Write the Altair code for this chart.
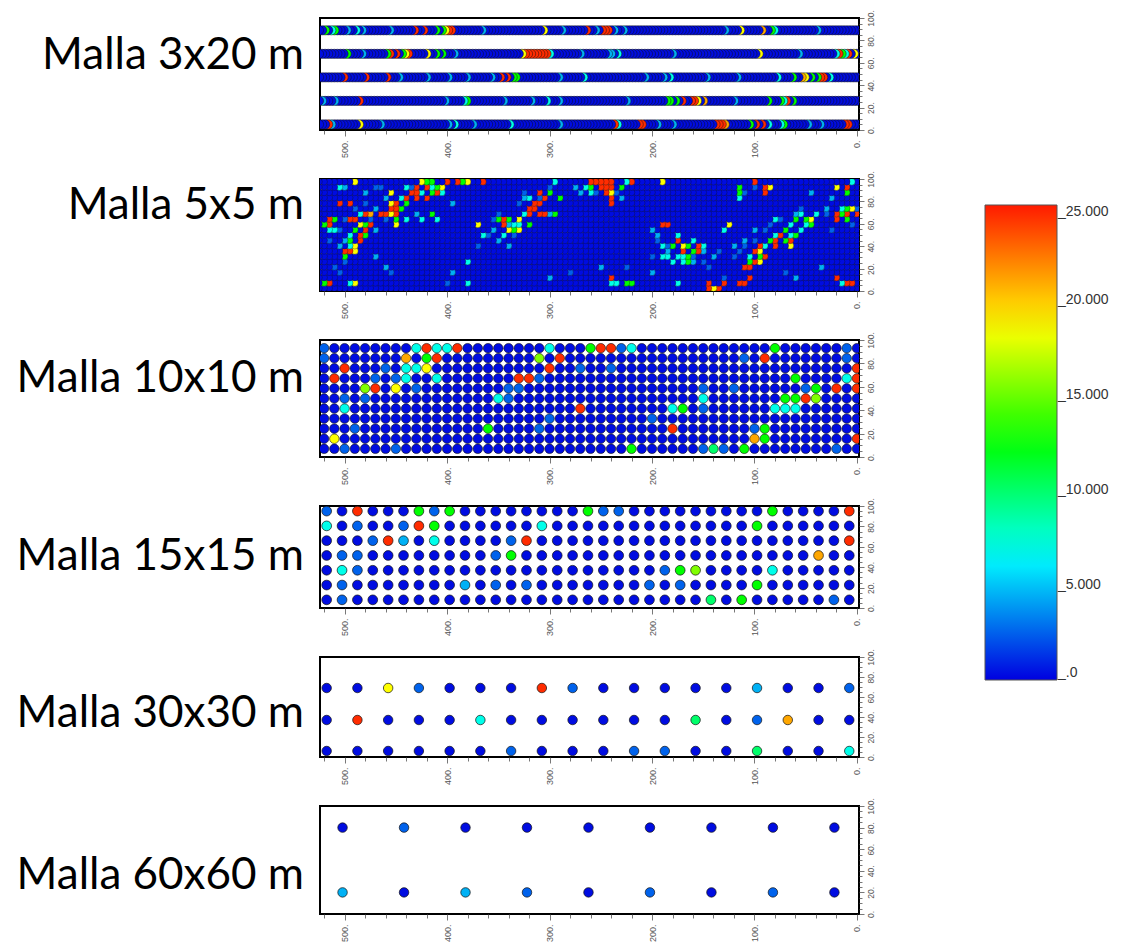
import altair as alt
import numpy as np
import pandas as pd

# ---- value classes ----
CODE = {"D": 0.3, "M": 2.5, "L": 4.5, "C": 7.0, "GC": 10.0, "G": 12.5,
        "YG": 15.5, "Y": 18.5, "O": 21.0, "R": 24.5}

TITLES = ["Malla 3x20 m", "Malla 5x5 m", "Malla 10x10 m",
          "Malla 15x15 m", "Malla 30x30 m", "Malla 60x60 m"]
LEGEND_VALUES = [0, 5, 10, 15, 20, 25]
COLOR_STOPS = [0, 6.5, 12.5, 18.5, 25]
COLOR_RANGE = ["#0000e0", "#00ffff", "#00ff00", "#ffff00", "#ff1a00"]

# ---- panel 1: 3 x 20 m (rows at y, samples every 3 m) ----
P1_ROWS = [89, 68, 47, 26, 5]
P1_X = list(range(0, 526, 3))
P1_SPOTS = {
    89: [(519, "G"), (513, "C"), (510, "G"), (498, "L"), (489, "C"), (483, "L"), (456, "L"),
         (432, "R"), (423, "R"), (411, "G"), (405, "G"), (402, "Y"), (399, "R"), (396, "R"),
         (366, "L"), (306, "Y"), (288, "L"), (264, "R"), (255, "L"), (249, "R"), (246, "R"),
         (243, "R"), (237, "L"), (228, "L"), (129, "L"), (114, "Y"), (93, "O"), (84, "G"),
         (81, "C"), (39, "L")],
    68: [(498, "G"), (483, "L"), (459, "G"), (456, "R"), (450, "R"), (444, "G"), (441, "Y"),
         (438, "R"), (420, "Y"), (411, "G"), (405, "G"), (393, "L"), (327, "Y"), (324, "R"),
         (321, "R"), (318, "R"), (315, "R"), (312, "R"), (309, "R"), (306, "R"), (303, "R"),
         (300, "C"), (270, "L"), (243, "L"), (240, "L"), (234, "C"), (180, "L"), (96, "Y"),
         (57, "L"), (21, "C"), (18, "R"), (15, "G"), (12, "C"), (9, "R"), (3, "Y")],
    47: [(501, "R"), (480, "R"), (459, "R"), (447, "L"), (420, "L"), (399, "L"), (381, "L"),
         (357, "L"), (348, "R"), (342, "R"), (336, "G"), (333, "G"), (291, "L"), (267, "C"),
         (207, "L"), (189, "L"), (183, "C"), (147, "L"), (117, "L"), (78, "C"), (63, "G"),
         (54, "O"), (51, "Y"), (45, "G"), (39, "G"), (36, "R"), (33, "R"), (27, "C")],
    26: [(522, "L"), (510, "L"), (486, "R"), (402, "L"), (384, "C"), (381, "G"), (345, "L"),
         (318, "L"), (303, "C"), (291, "L"), (225, "L"), (186, "G"), (183, "G"), (177, "G"),
         (171, "R"), (162, "R"), (159, "R"), (156, "Y"), (150, "O"), (120, "L"), (87, "G"),
         (75, "G"), (72, "C"), (69, "R"), (63, "G")],
    5: [(516, "R"), (513, "L"), (486, "Y"), (465, "L"), (399, "L"), (393, "C"), (375, "L"),
        (339, "C"), (291, "L"), (237, "R"), (234, "C"), (213, "R"), (210, "R"), (195, "L"),
        (180, "L"), (138, "R"), (135, "R"), (132, "R"), (129, "O"), (105, "G"), (99, "R"),
        (93, "R"), (87, "C"), (75, "C"), (72, "G"), (48, "L"), (36, "L"), (12, "R"), (9, "R")],
}

# ---- panel 2: 5 x 5 m (grid y 0..100 every 5) ----
P2_X = list(range(0, 526, 5))
P2_YGRID = list(range(0, 101, 5))
P2_SPOTS = {
    100: [(490, "Y"), (425, "Y"), (420, "G"), (415, "G"), (400, "R"), (390, "R"), (385, "G"),
          (380, "Y"), (365, "R"), (295, "C"), (260, "R"), (255, "R"), (250, "R"), (245, "R"),
          (240, "R"), (225, "C"), (220, "R"), (190, "Y"), (100, "R"), (5, "C")],
    95: [(505, "C"), (500, "L"), (440, "C"), (430, "R"), (420, "R"), (415, "C"), (410, "G"),
         (405, "Y"), (275, "L"), (265, "C"), (260, "G"), (250, "R"), (245, "R"), (240, "R"),
         (230, "G"), (115, "G"), (90, "R"), (85, "Y"), (20, "Y"), (10, "R")],
    90: [(480, "L"), (455, "Y"), (435, "R"), (430, "R"), (425, "C"), (415, "G"), (410, "R"),
         (405, "C"), (310, "R"), (300, "G"), (270, "L"), (260, "C"), (245, "R"), (240, "Y"),
         (115, "G"), (90, "R"), (45, "L"), (10, "G")],
    85: [(460, "L"), (445, "C"), (440, "R"), (430, "R"), (420, "R"), (325, "L"), (320, "C"),
         (305, "R"), (290, "G"), (240, "R"), (230, "L"), (115, "C"), (25, "L")],
    80: [(505, "R"), (495, "R"), (455, "Y"), (450, "R"), (440, "G"), (395, "L"), (315, "R"),
         (310, "R"), (240, "R")],
    75: [(470, "L"), (455, "R"), (450, "R"), (445, "G"), (320, "R"), (315, "R"), (30, "L"),
         (15, "C"), (10, "G"), (5, "Y")],
    70: [(485, "C"), (480, "R"), (475, "O"), (465, "R"), (460, "R"), (455, "Y"), (450, "R"),
         (430, "L"), (415, "G"), (325, "C"), (320, "R"), (310, "R"), (305, "R"), (300, "L"),
         (295, "G"), (60, "L"), (55, "C"), (40, "C"), (20, "R"), (15, "G"), (10, "R"), (0, "R")],
    65: [(515, "R"), (510, "G"), (495, "R"), (490, "R"), (450, "G"), (440, "C"), (425, "C"),
         (410, "C"), (350, "G"), (345, "R"), (340, "G"), (330, "Y"), (80, "C"), (60, "G"),
         (50, "G"), (45, "Y"), (20, "R"), (10, "G")],
    60: [(520, "G"), (515, "R"), (485, "Y"), (480, "G"), (475, "R"), (450, "Y"), (370, "Y"),
         (345, "R"), (340, "L"), (335, "C"), (330, "C"), (320, "G"), (190, "R"), (185, "R"),
         (125, "Y"), (65, "C"), (50, "C"), (45, "G")],
    55: [(515, "C"), (510, "C"), (490, "G"), (480, "R"), (470, "L"), (355, "L"), (340, "Y"),
         (335, "G"), (330, "Y"), (200, "L"), (130, "C"), (100, "L"), (70, "G"), (55, "C")],
    50: [(495, "C"), (485, "R"), (480, "G"), (365, "C"), (345, "C"), (195, "L"), (175, "C"),
         (80, "C"), (75, "R"), (65, "C"), (60, "G")],
    45: [(500, "L"), (495, "G"), (485, "R"), (350, "L"), (175, "R"), (160, "C"), (110, "L"),
         (85, "G"), (80, "R"), (70, "G"), (65, "R")],
    40: [(505, "L"), (495, "C"), (490, "Y"), (340, "L"), (190, "C"), (180, "G"), (170, "Y"),
         (165, "G"), (155, "R"), (150, "C"), (120, "L"), (95, "R"), (90, "C"), (80, "R"),
         (65, "Y")],
    35: [(500, "R"), (495, "R"), (490, "Y"), (185, "L"), (170, "R"), (160, "G"), (155, "R"),
         (150, "L"), (100, "R"), (95, "Y")],
    30: [(500, "G"), (470, "L"), (190, "C"), (185, "C"), (175, "C"), (170, "C"), (165, "G"),
         (140, "L"), (105, "C"), (95, "G"), (90, "R")],
    25: [(380, "C"), (180, "C"), (170, "C"), (165, "G"), (160, "L"), (105, "G"), (100, "R"),
         (95, "Y")],
    20: [(460, "L"), (250, "L"), (110, "R"), (105, "R"), (35, "L")],
    15: [(395, "L"), (200, "L")],
    10: [(300, "L"), (240, "R"), (105, "R"), (60, "L"), (20, "R")],
    5: [(520, "G"), (515, "R"), (495, "C"), (490, "Y"), (380, "C"), (240, "C"), (235, "C"),
        (225, "G"), (220, "G"), (175, "C"), (145, "R"), (130, "R"), (115, "R"), (110, "R"),
        (15, "C"), (10, "R"), (5, "R")],
    0: [(145, "R"), (140, "Y"), (135, "R")],
}
# medium-blue cells scattered along the same bands (x, grid y)
P2_MEDIUM = [(515, 45), (505, 55), (500, 65), (490, 75), (480, 80), (470, 95), (465, 95),
             (460, 65), (445, 75), (435, 95), (500, 25), (510, 20), (485, 45), (475, 65),
             (505, 15), (370, 40), (360, 50), (355, 65), (350, 70), (330, 80), (325, 90),
             (300, 95), (310, 85), (335, 50), (265, 95), (255, 90), (235, 90), (230, 95),
             (195, 45), (185, 40), (175, 45), (160, 30), (150, 25), (145, 20), (135, 35),
             (200, 30), (120, 30), (115, 35), (110, 40), (100, 45), (90, 55), (85, 60),
             (75, 65), (55, 75), (40, 70), (30, 70), (25, 55), (5, 60), (0, 75), (110, 90),
             (100, 95), (400, 5), (280, 15), (225, 20), (130, 10), (70, 15), (455, 15)]

# ---- panel 3: 10 x 10 m (grid y 0..100 every 10) ----
P3_X = list(range(0, 521, 10))
P3_YGRID = list(range(0, 101, 10))
P3_SPOTS = {
    100: [(520, "M"), (430, "C"), (420, "R"), (410, "C"), (400, "C"), (390, "R"), (300, "C"),
          (260, "G"), (250, "R"), (240, "R"), (230, "M"), (220, "C"), (80, "G"), (10, "M")],
    90: [(520, "M"), (440, "O"), (420, "G"), (410, "R"), (310, "YG"), (290, "R"), (110, "M"),
         (90, "R"), (10, "M")],
    80: [(500, "R"), (460, "M"), (440, "C"), (430, "C"), (420, "Y"), (300, "R"), (270, "M"),
         (240, "M"), (0, "R")],
    70: [(510, "R"), (470, "M"), (450, "M"), (440, "C"), (410, "C"), (330, "R"), (320, "R"),
         (310, "M"), (60, "G"), (10, "C"), (0, "R")],
    60: [(480, "YG"), (470, "R"), (450, "Y"), (430, "M"), (340, "M"), (330, "M"), (150, "M"),
         (120, "M"), (50, "M"), (40, "G"), (20, "R"), (0, "R")],
    50: [(500, "M"), (480, "M"), (350, "C"), (340, "M"), (150, "C"), (70, "G"), (60, "G"),
         (50, "R"), (40, "YG")],
    40: [(500, "C"), (270, "R"), (180, "C"), (170, "G"), (150, "M"), (80, "C"), (70, "C"),
         (60, "C")],
    30: [(300, "M"), (200, "M")],
    20: [(490, "M"), (360, "G"), (310, "M"), (180, "R"), (100, "M"), (90, "G")],
    10: [(510, "Y"), (100, "O"), (90, "G"), (0, "R")],
    0: [(500, "M"), (450, "M"), (220, "G"), (150, "M"), (140, "GC"), (130, "M"), (110, "G"),
        (20, "M")],
}

# ---- panel 4: 15 x 15 m (35 columns from x=517.5 down to 7.5; rows top to bottom) ----
P4_X = [517.5 - 15 * c for c in range(35)]
P4_ROWS = [95, 80.5, 66, 51.5, 37, 22.5, 8]
P4_SPOTS = {  # row index (top first): [(column index from left, class)]
    0: [(0, "M"), (2, "R"), (6, "G"), (7, "M"), (8, "G"), (17, "G"), (18, "M"), (19, "M"),
        (29, "G"), (34, "R")],
    1: [(0, "C"), (2, "M"), (5, "M"), (6, "R"), (7, "G"), (14, "C"), (28, "G")],
    2: [(3, "M"), (4, "R"), (5, "L"), (7, "C"), (12, "M"), (13, "R"), (34, "R")],
    3: [(1, "M"), (2, "M"), (11, "M"), (12, "G"), (32, "O")],
    4: [(1, "C"), (2, "M"), (22, "M"), (23, "G"), (24, "YG"), (29, "C")],
    5: [(1, "M"), (9, "L"), (11, "M"), (13, "M"), (21, "M"), (23, "M"), (28, "G")],
    6: [(1, "M"), (25, "GC"), (27, "G"), (33, "M")],
}

# ---- panel 5: 30 x 30 m (18 columns, left to right) ----
P5_X = [517.5 - 30 * c for c in range(18)]
P5_ROWS = [69, 37, 6]
P5_VALUES = [
    ["D", "D", "Y", "M", "D", "D", "D", "R", "M", "D", "D", "D", "D", "D", "L", "D", "D", "M"],
    ["D", "R", "D", "D", "D", "C", "D", "D", "D", "D", "D", "D", "GC", "D", "M", "O", "D", "D"],
    ["D", "D", "D", "D", "D", "D", "M", "D", "D", "D", "M", "M", "D", "D", "GC", "D", "D", "C"],
]

# ---- panel 6: 60 x 60 m (9 columns, left to right) ----
P6_X = [502, 442, 382, 322, 262, 202, 142, 82, 22]
P6_ROWS = [80, 20]
P6_VALUES = [
    ["D", "M", "D", "D", "D", "D", "D", "D", "D"],
    ["L", "D", "L", "M", "D", "M", "D", "M", "D"],
]


def from_spots(xs, row_pos, spots, extra=()):
    recs = []
    extra_set = set(extra)
    for key, ypos in row_pos:
        lookup = {x: CODE[c] for x, c in spots.get(key, [])}
        for x in sorted(xs):
            v = lookup.get(x, CODE["M"] if (x, key) in extra_set else CODE["D"])
            recs.append({"x": x, "y": ypos, "v": v})
    return pd.DataFrame(recs)


df1 = from_spots(P1_X, [(r, r) for r in P1_ROWS], P1_SPOTS)
y2 = np.linspace(2.5, 97.5, len(P2_YGRID))
df2 = from_spots(P2_X, list(zip(P2_YGRID, y2)), P2_SPOTS, P2_MEDIUM)
y3 = np.linspace(7, 93, len(P3_YGRID))
df3 = from_spots(P3_X, list(zip(P3_YGRID, y3)), P3_SPOTS)

recs = []
for r, ypos in enumerate(P4_ROWS):
    lookup = {c: CODE[k] for c, k in P4_SPOTS.get(r, [])}
    for c in range(len(P4_X) - 1, -1, -1):
        recs.append({"x": P4_X[c], "y": ypos, "v": lookup.get(c, CODE["D"])})
df4 = pd.DataFrame(recs)

recs = []
for r, ypos in enumerate(P5_ROWS):
    for c in range(len(P5_X) - 1, -1, -1):
        recs.append({"x": P5_X[c], "y": ypos, "v": CODE[P5_VALUES[r][c]]})
df5 = pd.DataFrame(recs)

recs = []
for r, ypos in enumerate(P6_ROWS):
    for c in range(len(P6_X) - 1, -1, -1):
        recs.append({"x": P6_X[c], "y": ypos, "v": CODE[P6_VALUES[r][c]]})
df6 = pd.DataFrame(recs)

color_scale = alt.Scale(domain=COLOR_STOPS, range=COLOR_RANGE, interpolate="rgb")
legend = alt.Legend(
    orient="none", legendX=665, legendY=187, direction="vertical",
    gradientLength=475, gradientThickness=72, title=None,
    values=LEGEND_VALUES,
    labelExpr="'_' + (datum.value == 0 ? '.0' : format(datum.value, '.3f'))",
    labelFontSize=14, labelFont="Liberation Sans", labelColor="#333",
    labelOffset=1, labelOverlap=False, labelBaseline="middle",
    gradientStrokeColor="#555", gradientStrokeWidth=1,
)

x_axis = alt.Axis(
    values=list(range(0, 521, 20)),
    labelExpr="datum.value % 100 === 0 ? datum.value + '.' : ''",
    labelAngle=270, labelAlign="right", labelBaseline="middle",
    labelFontSize=9, labelFont="Liberation Sans", labelColor="#555",
    labelPadding=4, labelFlush=False, labelOverlap=False,
    tickColor="#555", tickWidth=0.8,
    tickSize={"condition": {"test": "datum.value % 100 === 0", "value": 6}, "value": 4},
    domain=False, grid=False, title=None,
)
y_axis = alt.Axis(
    orient="right", values=list(range(0, 101, 5)),
    labelExpr="datum.value % 20 === 0 ? datum.value + '.' : ''",
    labelAngle=270, labelAlign="center", labelBaseline="top",
    labelFontSize=8.5, labelFont="Liberation Sans", labelColor="#555",
    labelPadding=2, labelFlush=False, labelOverlap=False,
    tickColor="#555", tickWidth=0.8,
    tickSize={"condition": {"test": "datum.value % 20 === 0", "value": 5}, "value": 3},
    domain=False, grid=False, title=None,
)

HEIGHTS = [112, 112, 117, 102, 100, 108]
DYS = [-18, -29, -20, 0, 7, 16]
SIZES = [85, 45, 90, 95, 90, 90]
STROKES = [0.5, 0.35, 0.6, 0.7, 0.7, 0.7]
DFS = [df1, df2, df3, df4, df5, df6]

panels = []
for i, d in enumerate(DFS):
    pts = alt.Chart(d).mark_circle(
        size=SIZES[i], opacity=1, stroke="#111", strokeWidth=STROKES[i], clip=True
    ).encode(
        x=alt.X("x:Q", scale=alt.Scale(domain=[-2, 524], reverse=True, nice=False, zero=False),
                axis=x_axis),
        y=alt.Y("y:Q", scale=alt.Scale(domain=[0, 100], nice=False, zero=False), axis=y_axis),
        color=alt.Color("v:Q", scale=color_scale, legend=legend),
    )
    lab = alt.Chart(pd.DataFrame({"label": [TITLES[i]]})).mark_text(
        align="right", baseline="middle", font="Lato", fontSize=44, color="black"
    ).encode(
        text="label:N",
        x=alt.value(-16),
        y=alt.value(HEIGHTS[i] / 2 + DYS[i]),
    )
    panels.append(alt.layer(pts, lab).properties(width=539, height=HEIGHTS[i]))

chart = alt.vconcat(*panels, spacing=49, bounds="flush").properties(
    padding={"left": 15, "top": 8, "right": 10, "bottom": 5}
).configure_view(
    stroke="black", strokeWidth=2
).configure_legend(
    gradientVerticalMaxLength=600
)

chart.save("out.html", embed_options={"renderer": "svg", "actions": False})
